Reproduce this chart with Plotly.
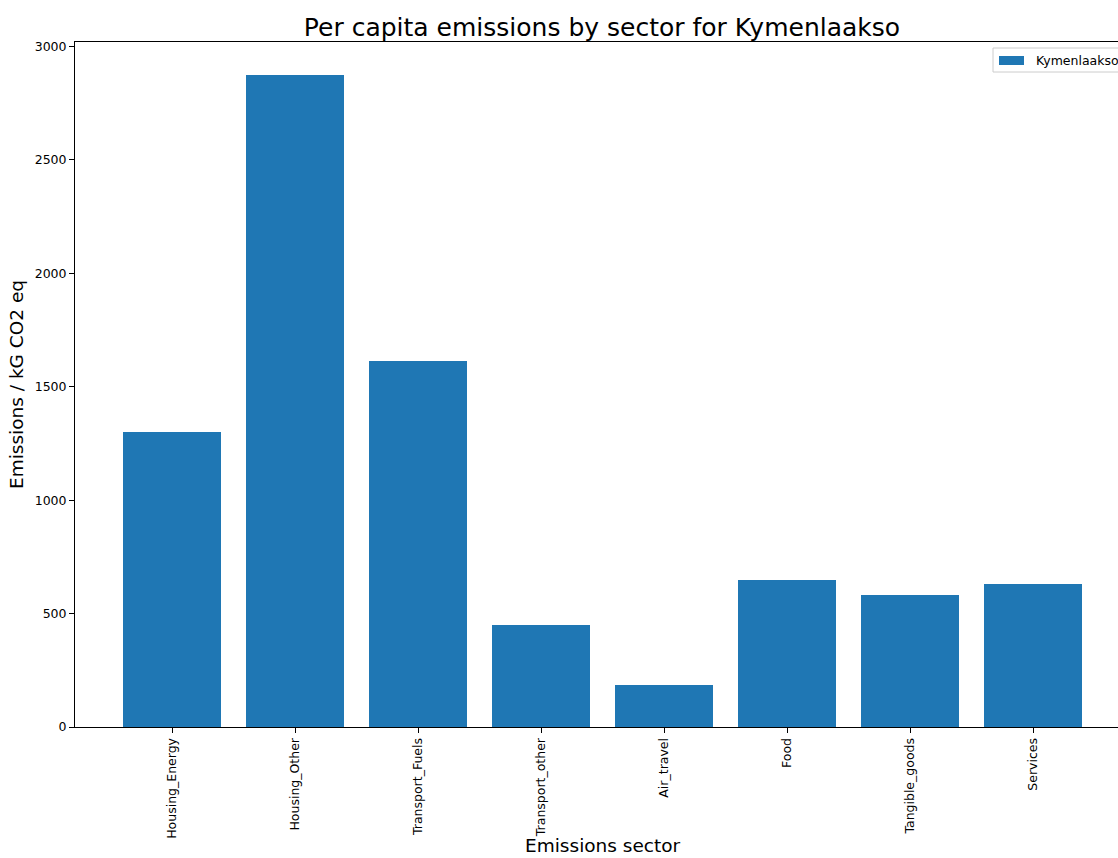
import plotly.graph_objects as go

# Per capita emissions by sector (kg CO2 eq)
sectors = ["Housing_Energy", "Housing_Other", "Transport_Fuels", "Transport_other",
           "Air_travel", "Food", "Tangible_goods", "Services"]
emissions = [1301, 2876, 1614, 450, 185, 648, 580, 631]
y_ticks = [0, 500, 1000, 1500, 2000, 2500, 3000]
region = "Kymenlaakso"

W, H = 1118, 858
ML, MR, MT, MB = 75, 0, 42, 131
FONT = "DejaVu Sans"
BAR_COLOR = "#1f77b4"

PW, PH = W - ML - MR, H - MT - MB


def px_x(px):
    """Pixel column -> paper x."""
    return (px - ML) / PW


def px_y(py):
    """Pixel row -> paper y."""
    return (H - MB - py) / PH


fig = go.Figure(
    go.Bar(
        x=list(range(len(sectors))),
        y=emissions,
        width=0.8,
        name=region,
        marker=dict(color=BAR_COLOR, line=dict(width=0)),
        showlegend=False,
    )
)

# legend box drawn by hand so that it can run past the right edge
shapes = [
    dict(type="rect", xref="paper", yref="paper",
         x0=px_x(993), x1=px_x(1140), y0=px_y(72), y1=px_y(48),
         line=dict(color="#cccccc", width=1), fillcolor="white", layer="above"),
    dict(type="rect", xref="paper", yref="paper",
         x0=px_x(999), x1=px_x(1024), y0=px_y(65), y1=px_y(56),
         line=dict(width=0), fillcolor=BAR_COLOR, layer="above"),
]
annotations = [
    dict(text=region, xref="paper", yref="paper", x=px_x(1034), y=px_y(60.5),
         xanchor="left", yanchor="middle", showarrow=False,
         font=dict(family=FONT, size=12.5, color="black")),
    # x-axis title, centred under the full axes width, sitting on the bottom edge
    dict(text="Emissions sector", xref="paper", yref="paper", x=px_x(603), y=px_y(857.5),
         xanchor="center", yanchor="bottom", showarrow=False,
         font=dict(family=FONT, size=18.5, color="black")),
]

fig.update_layout(
    width=W,
    height=H,
    margin=dict(l=ML, r=MR, t=MT, b=MB, pad=0, autoexpand=False),
    plot_bgcolor="white",
    paper_bgcolor="white",
    font=dict(family=FONT, color="black", size=12),
    bargap=0,
    shapes=shapes,
    annotations=annotations,
    title=dict(
        text="Per capita emissions by sector for Kymenlaakso",
        font=dict(family=FONT, size=25, color="black"),
        x=px_x(602), xref="paper", xanchor="center",
        y=1 - 27 / H, yref="container", yanchor="middle",
    ),
)

fig.update_xaxes(
    range=[-0.79, 7.69],
    tickmode="array",
    tickvals=list(range(len(sectors))),
    ticktext=sectors,
    tickangle=-90,
    ticks="outside", ticklen=5, tickcolor="black",
    showline=True, linecolor="black", linewidth=1, mirror=True,
    showgrid=False, zeroline=False, automargin=False,
    tickfont=dict(family=FONT, size=12.5),
)

fig.update_yaxes(
    range=[0, 3020],
    tickmode="array",
    tickvals=y_ticks,
    ticks="outside", ticklen=5, tickcolor="black",
    showline=True, linecolor="black", linewidth=1,
    showgrid=False, zeroline=False, automargin=False,
    tickfont=dict(family=FONT, size=12.5),
    title=dict(text="Emissions / kG CO2 eq", font=dict(family=FONT, size=18.5), standoff=6),
)

fig.write_html("out.html")
